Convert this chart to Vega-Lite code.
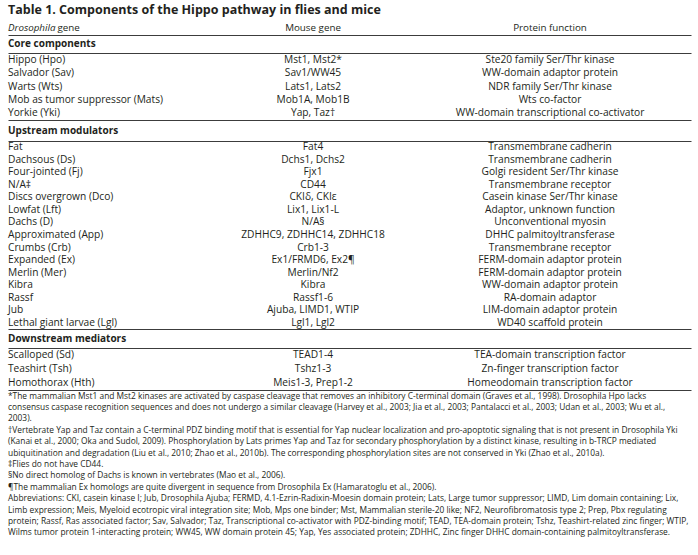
{
  "$schema": "https://vega.github.io/schema/vega-lite/v6.json",
  "background": "white",
  "padding": {"left": 8, "top": 3, "right": 7, "bottom": 0},
  "bounds": "flush",
  "spacing": 0,
  "title": {"text": "Table 1. Components of the Hippo pathway in flies and mice", "anchor": "start", "font": "Open Sans", "fontSize": 12.5, "fontWeight": "bold", "color": "#231f20", "offset": 4},
  "vconcat": [
    {
      "width": 683, "height": 15,
      "data": {"values": [{"a": "Drosophila", "b": "gene", "c": "Mouse gene", "d": "Protein function"}]},
      "layer": [
        {"mark": {"type": "text", "align": "left", "fontStyle": "italic", "fontSize": 9.8}, "encoding": {"x": {"datum": 0, "type": "quantitative", "scale": {"domain": [0, 1]}, "title": null}, "text": {"field": "a"}}},
        {"mark": {"type": "text", "align": "left", "fontSize": 9.8, "dx": 49.5}, "encoding": {"x": {"datum": 0, "type": "quantitative", "title": null}, "text": {"field": "b"}}},
        {"mark": {"type": "text", "align": "center", "fontSize": 9.8}, "encoding": {"x": {"datum": 0.4466, "type": "quantitative", "title": null}, "text": {"field": "c"}}},
        {"mark": {"type": "text", "align": "center", "fontSize": 9.8}, "encoding": {"x": {"datum": 0.7936, "type": "quantitative", "title": null}, "text": {"field": "d"}}}
      ]
    },
    {
      "width": 683, "height": 18,
      "data": {"values": [{"section": "Core components"}]},
      "mark": {"type": "text", "align": "left", "fontWeight": "bold", "fontSize": 10},
      "encoding": {"x": {"datum": 0, "type": "quantitative", "scale": {"domain": [0, 1]}, "title": null}, "text": {"field": "section"}}
    },
    {
      "width": 683, "height": 67,
      "data": {"values": [
        {"gene": "Hippo (Hpo)", "mouse": "Mst1, Mst2*", "func": "Ste20 family Ser/Thr kinase"},
        {"gene": "Salvador (Sav)", "mouse": "Sav1/WW45", "func": "WW-domain adaptor protein"},
        {"gene": "Warts (Wts)", "mouse": "Lats1, Lats2", "func": "NDR family Ser/Thr kinase"},
        {"gene": "Mob as tumor suppressor (Mats)", "mouse": "Mob1A, Mob1B", "func": "Wts co-factor"},
        {"gene": "Yorkie (Yki)", "mouse": "Yap, Taz†", "func": "WW-domain transcriptional co-activator"}
      ]},
      "encoding": {"y": {"field": "gene", "type": "nominal", "sort": null, "axis": null, "scale": {"paddingInner": 0, "paddingOuter": 0.29}}},
      "layer": [
        {"mark": {"type": "text", "align": "left"}, "encoding": {"x": {"datum": 0, "type": "quantitative", "scale": {"domain": [0, 1]}, "title": null}, "text": {"field": "gene"}}},
        {"mark": {"type": "text", "align": "center"}, "encoding": {"x": {"datum": 0.4466, "type": "quantitative", "title": null}, "text": {"field": "mouse"}}},
        {"mark": {"type": "text", "align": "center"}, "encoding": {"x": {"datum": 0.7936, "type": "quantitative", "title": null}, "text": {"field": "func"}}}
      ]
    },
    {
      "width": 683, "height": 21,
      "data": {"values": [{"section": "Upstream modulators"}]},
      "mark": {"type": "text", "align": "left", "fontWeight": "bold", "fontSize": 10},
      "encoding": {"x": {"datum": 0, "type": "quantitative", "scale": {"domain": [0, 1]}, "title": null}, "text": {"field": "section"}}
    },
    {
      "width": 683, "height": 188,
      "data": {"values": [
        {"gene": "Fat", "mouse": "Fat4", "func": "Transmembrane cadherin"},
        {"gene": "Dachsous (Ds)", "mouse": "Dchs1, Dchs2", "func": "Transmembrane cadherin"},
        {"gene": "Four-jointed (Fj)", "mouse": "Fjx1", "func": "Golgi resident Ser/Thr kinase"},
        {"gene": "N/A‡", "mouse": "CD44", "func": "Transmembrane receptor"},
        {"gene": "Discs overgrown (Dco)", "mouse": "CKIδ, CKIε", "func": "Casein kinase Ser/Thr kinase"},
        {"gene": "Lowfat (Lft)", "mouse": "Lix1, Lix1-L", "func": "Adaptor, unknown function"},
        {"gene": "Dachs (D)", "mouse": "N/A§", "func": "Unconventional myosin"},
        {"gene": "Approximated (App)", "mouse": "ZDHHC9, ZDHHC14, ZDHHC18", "func": "DHHC palmitoyltransferase"},
        {"gene": "Crumbs (Crb)", "mouse": "Crb1-3", "func": "Transmembrane receptor"},
        {"gene": "Expanded (Ex)", "mouse": "Ex1/FRMD6, Ex2¶", "func": "FERM-domain adaptor protein"},
        {"gene": "Merlin (Mer)", "mouse": "Merlin/Nf2", "func": "FERM-domain adaptor protein"},
        {"gene": "Kibra", "mouse": "Kibra", "func": "WW-domain adaptor protein"},
        {"gene": "Rassf", "mouse": "Rassf1-6", "func": "RA-domain adaptor"},
        {"gene": "Jub", "mouse": "Ajuba, LIMD1, WTIP", "func": "LIM-domain adaptor protein"},
        {"gene": "Lethal giant larvae (Lgl)", "mouse": "Lgl1, Lgl2", "func": "WD40 scaffold protein"}
      ]},
      "encoding": {"y": {"field": "gene", "type": "nominal", "sort": null, "axis": null, "scale": {"paddingInner": 0, "paddingOuter": 0.333}}},
      "layer": [
        {"mark": {"type": "text", "align": "left"}, "encoding": {"x": {"datum": 0, "type": "quantitative", "scale": {"domain": [0, 1]}, "title": null}, "text": {"field": "gene"}}},
        {"mark": {"type": "text", "align": "center"}, "encoding": {"x": {"datum": 0.4466, "type": "quantitative", "title": null}, "text": {"field": "mouse"}}},
        {"mark": {"type": "text", "align": "center"}, "encoding": {"x": {"datum": 0.7936, "type": "quantitative", "title": null}, "text": {"field": "func"}}}
      ]
    },
    {
      "width": 683, "height": 19,
      "data": {"values": [{"section": "Downstream mediators"}]},
      "mark": {"type": "text", "align": "left", "fontWeight": "bold", "fontSize": 10},
      "encoding": {"x": {"datum": 0, "type": "quantitative", "scale": {"domain": [0, 1]}, "title": null}, "text": {"field": "section"}}
    },
    {
      "width": 683, "height": 42,
      "data": {"values": [
        {"gene": "Scalloped (Sd)", "mouse": "TEAD1-4", "func": "TEA-domain transcription factor"},
        {"gene": "Teashirt (Tsh)", "mouse": "Tshz1-3", "func": "Zn-finger transcription factor"},
        {"gene": "Homothorax (Hth)", "mouse": "Meis1-3, Prep1-2", "func": "Homeodomain transcription factor"}
      ]},
      "encoding": {"y": {"field": "gene", "type": "nominal", "sort": null, "axis": null, "scale": {"paddingInner": 0, "paddingOuter": 0.25}}},
      "layer": [
        {"mark": {"type": "text", "align": "left"}, "encoding": {"x": {"datum": 0, "type": "quantitative", "scale": {"domain": [0, 1]}, "title": null}, "text": {"field": "gene"}}},
        {"mark": {"type": "text", "align": "center"}, "encoding": {"x": {"datum": 0.4466, "type": "quantitative", "title": null}, "text": {"field": "mouse"}}},
        {"mark": {"type": "text", "align": "center"}, "encoding": {"x": {"datum": 0.7936, "type": "quantitative", "title": null}, "text": {"field": "func"}}}
      ]
    },
    {
      "width": 683, "height": 148,
      "data": {"values": [
        {"note": "*The mammalian Mst1 and Mst2 kinases are activated by caspase cleavage that removes an inhibitory C-terminal domain (Graves et al., 1998). Drosophila Hpo lacks"},
        {"note": "consensus caspase recognition sequences and does not undergo a similar cleavage (Harvey et al., 2003; Jia et al., 2003; Pantalacci et al., 2003; Udan et al., 2003; Wu et al.,"},
        {"note": "2003)."},
        {"note": "†Vertebrate Yap and Taz contain a C-terminal PDZ binding motif that is essential for Yap nuclear localization and pro-apoptotic signaling that is not present in Drosophila Yki"},
        {"note": "(Kanai et al., 2000; Oka and Sudol, 2009). Phosphorylation by Lats primes Yap and Taz for secondary phosphorylation by a distinct kinase, resulting in b-TRCP mediated"},
        {"note": "ubiquitination and degradation (Liu et al., 2010; Zhao et al., 2010b). The corresponding phosphorylation sites are not conserved in Yki (Zhao et al., 2010a)."},
        {"note": "‡Flies do not have CD44."},
        {"note": "§No direct homolog of Dachs is known in vertebrates (Mao et al., 2006)."},
        {"note": "¶The mammalian Ex homologs are quite divergent in sequence from Drosophila Ex (Hamaratoglu et al., 2006)."},
        {"note": "Abbreviations: CKI, casein kinase I; Jub, Drosophila Ajuba; FERMD, 4.1-Ezrin-Radixin-Moesin domain protein; Lats, Large tumor suppressor; LIMD, Lim domain containing; Lix,"},
        {"note": "Limb expression; Meis, Myeloid ecotropic viral integration site; Mob, Mps one binder; Mst, Mammalian sterile-20 like; NF2, Neurofibromatosis type 2; Prep, Pbx regulating"},
        {"note": "protein; Rassf, Ras associated factor; Sav, Salvador; Taz, Transcriptional co-activator with PDZ-binding motif; TEAD, TEA-domain protein; Tshz, Teashirt-related zinc finger; WTIP,"},
        {"note": "Wilms tumor protein 1-interacting protein; WW45, WW domain protein 45; Yap, Yes associated protein; ZDHHC, Zinc finger DHHC domain-containing palmitoyltransferase."}
      ]},
      "mark": {"type": "text", "align": "left", "fontSize": 8.4},
      "encoding": {
        "y": {"field": "note", "type": "nominal", "sort": null, "axis": null, "scale": {"paddingInner": 0, "paddingOuter": 0.2}},
        "x": {"datum": 0, "type": "quantitative", "scale": {"domain": [0, 1]}, "title": null},
        "text": {"field": "note"}
      }
    }
  ],
  "config": {
    "view": {"stroke": null},
    "concat": {"spacing": 0},
    "axis": {"minExtent": 0, "maxExtent": 1},
    "axisX": {"domain": true, "domainColor": "#3c3c3c", "domainWidth": 1, "ticks": false, "labels": false, "grid": false},
    "text": {"font": "Open Sans", "fontSize": 10.2, "color": "#231f20", "baseline": "middle"}
  }
}
